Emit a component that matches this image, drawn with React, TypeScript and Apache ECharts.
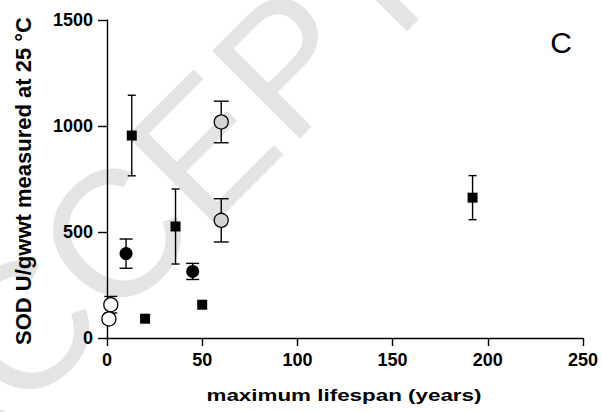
import React, { useEffect, useRef } from "react";
import * as echarts from "echarts";

// x = maximum lifespan (years), y = SOD U/gwwt, err = +/- error
const squareX = [13, 36, 20, 50, 192];
const squareY = [955, 526, 91, 157, 662];
const squareErr = [190, 177, 0, 0, 104];

const blackCircleX = [10, 45];
const blackCircleY = [398, 314];
const blackCircleErr = [69, 38];

const grayCircleX = [60, 60];
const grayCircleY = [1019, 555];
const grayCircleErr = [98, 102];

const whiteCircleX = [2, 1];
const whiteCircleY = [157, 90];
const whiteCircleErr = [39, 0];

const xTicks = [0, 50, 100, 150, 200, 250];
const yTicks = [0, 500, 1000, 1500];

const FONT = "Liberation Sans, Arial, sans-serif";

function pts(xs: number[], ys: number[]) {
  return xs.map((x, i) => [x, ys[i]]);
}

function errs(xs: number[], ys: number[], es: number[], cap: number) {
  return xs
    .map((x, i) => [x, ys[i] - es[i], ys[i] + es[i], cap, es[i]])
    .filter((d) => d[4] > 0);
}

export default function App() {
  const ref = useRef<HTMLDivElement>(null);
  useEffect(() => {
    if (!ref.current) return;
    const chart = echarts.init(ref.current, null, { renderer: "svg" });
    const errData = [
      ...errs(squareX, squareY, squareErr, 8),
      ...errs(blackCircleX, blackCircleY, blackCircleErr, 13),
      ...errs(grayCircleX, grayCircleY, grayCircleErr, 15),
      ...errs(whiteCircleX, whiteCircleY, whiteCircleErr, 13),
    ];
    chart.setOption({
      animation: false,
      backgroundColor: "#fff",
      grid: { left: 107, right: 19, top: 20, bottom: 74, containLabel: false },
      xAxis: {
        type: "value",
        min: xTicks[0],
        max: xTicks[xTicks.length - 1],
        interval: 50,
        axisLine: { show: true, lineStyle: { color: "#000", width: 1.4 } },
        axisTick: { show: true, length: 8, lineStyle: { color: "#000", width: 1.4 } },
        axisLabel: {
          color: "#000",
          fontSize: 18,
          fontWeight: "bold",
          fontFamily: FONT,
          margin: 13,
          formatter: (v: number) => String(v),
        },
        splitLine: { show: false },
      },
      yAxis: {
        type: "value",
        min: yTicks[0],
        max: yTicks[yTicks.length - 1],
        interval: 500,
        axisLine: { show: true, lineStyle: { color: "#000", width: 1.4 } },
        axisTick: { show: true, length: 9, lineStyle: { color: "#000", width: 1.4 } },
        axisLabel: {
          color: "#000",
          fontSize: 18,
          fontWeight: "bold",
          fontFamily: FONT,
          margin: 14,
          formatter: (v: number) => String(v),
        },
        splitLine: { show: false },
      },
      graphic: [
        {
          type: "text",
          x: -45,
          y: 522,
          rotation: Math.PI / 4,
          z: -10,
          silent: true,
          style: {
            text: "ACCEPTED",
            fill: "#e4e4e4",
            font: "180px Liberation Sans, Arial, sans-serif",
            textAlign: "left",
            textVerticalAlign: "bottom",
          },
        },
        {
          type: "text",
          x: 344,
          y: 395,
          scaleX: 1.4,
          style: {
            text: "maximum lifespan (years)",
            fill: "#000",
            font: "bold 16px Liberation Sans, Arial, sans-serif",
            textAlign: "center",
            textVerticalAlign: "middle",
          },
        },
        {
          type: "text",
          x: 23,
          y: 181,
          rotation: Math.PI / 2,
          style: {
            text: "SOD U/gwwt measured at 25 °C",
            fill: "#000",
            font: "bold 22px Liberation Sans, Arial, sans-serif",
            textAlign: "center",
            textVerticalAlign: "middle",
          },
        },
        {
          type: "text",
          x: 561,
          y: 42,
          style: {
            text: "C",
            fill: "#000",
            font: "30px Liberation Sans, Arial, sans-serif",
            textAlign: "center",
            textVerticalAlign: "middle",
          },
        },
      ],
      series: [
        {
          type: "custom",
          z: 1,
          data: errData,
          renderItem: (params: any, api: any) => {
            const x = api.value(0);
            const lo = api.coord([x, api.value(1)]);
            const hi = api.coord([x, api.value(2)]);
            const cap = api.value(3) / 2;
            const st = { stroke: "#000", lineWidth: 1.4 };
            return {
              type: "group",
              children: [
                { type: "line", shape: { x1: lo[0], y1: lo[1], x2: hi[0], y2: hi[1] }, style: st },
                { type: "line", shape: { x1: lo[0] - cap, y1: lo[1], x2: lo[0] + cap, y2: lo[1] }, style: st },
                { type: "line", shape: { x1: hi[0] - cap, y1: hi[1], x2: hi[0] + cap, y2: hi[1] }, style: st },
              ],
            };
          },
        },
        {
          type: "scatter",
          z: 3,
          symbol: "rect",
          symbolSize: 10,
          itemStyle: { color: "#000", opacity: 1 },
          data: pts(squareX, squareY),
        },
        {
          type: "scatter",
          z: 3,
          symbol: "circle",
          symbolSize: 13,
          itemStyle: { color: "#000", opacity: 1 },
          data: pts(blackCircleX, blackCircleY),
        },
        {
          type: "scatter",
          z: 3,
          symbol: "circle",
          symbolSize: 14,
          itemStyle: { color: "#d3d3d3", borderColor: "#000", borderWidth: 1.3, opacity: 1 },
          data: pts(grayCircleX, grayCircleY),
        },
        {
          type: "scatter",
          z: 3,
          symbol: "circle",
          symbolSize: 14,
          itemStyle: { color: "#fff", borderColor: "#000", borderWidth: 1.3, opacity: 1 },
          data: pts(whiteCircleX, whiteCircleY),
        },
      ],
    });
    return () => chart.dispose();
  }, []);
  return <div ref={ref} style={{ width: 602, height: 412, position: "absolute", left: 0, top: 0 }} />;
}
